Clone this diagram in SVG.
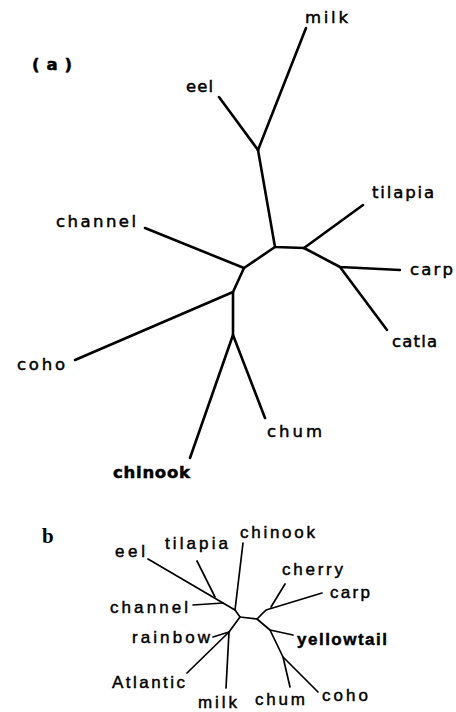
<svg xmlns="http://www.w3.org/2000/svg" width="456" height="712" viewBox="0 0 456 712">
<style>
.ea{stroke:#000;stroke-width:2.6;fill:none;stroke-linecap:round;stroke-linejoin:round}
.eb{stroke:#000;stroke-width:1.7;fill:none;stroke-linecap:round;stroke-linejoin:round}
.ta{font-family:"DejaVu Sans","Liberation Sans",sans-serif;font-size:16.5px;fill:#000;stroke:#000;stroke-width:0.5}
.tb{font-family:"Liberation Sans",Arial,sans-serif;font-size:17px;fill:#000;stroke:#000;stroke-width:0.45}
.bold{font-weight:bold}
</style>
<rect width="456" height="712" fill="#fff"/>
<g id="connectors">
<g id="tree-a">
<path class="ea" d="M258,150 L306,28"/>
<path class="ea" d="M258,150 L219,97"/>
<path class="ea" d="M258,150 L275,247 L304,248"/>
<path class="ea" d="M304,248 L363,205"/>
<path class="ea" d="M304,248 L340,267 L400,270"/>
<path class="ea" d="M340,267 L387,330"/>
<path class="ea" d="M275,247 L244,268 L145,228"/>
<path class="ea" d="M244,268 L233,292 L75,360"/>
<path class="ea" d="M233,292 L233,335 L265,418"/>
<path class="ea" d="M233,335 L190,458"/>
</g>
<g id="tree-b">
<path class="eb" d="M148,559 L235,610"/>
<path class="eb" d="M197,561 L215,597"/>
<path class="eb" d="M193,605 L223,603"/>
<path class="eb" d="M243,543 L235,610 L240,617 L257,619"/>
<path class="eb" d="M257,619 L270,630 L283,657 L318,692"/>
<path class="eb" d="M293,635 L270,630"/>
<path class="eb" d="M283,657 L290,687"/>
<path class="eb" d="M257,619 L266,610 L322,593"/>
<path class="eb" d="M285,584 L271,607"/>
<path class="eb" d="M240,617 L229,632 L187,673"/>
<path class="eb" d="M229,632 L213,637"/>
<path class="eb" d="M229,632 L226,688"/>
</g>
</g>
<g id="panel-a-label"><text class="ta bold" x="32" y="70" font-size="18" textLength="40" lengthAdjust="spacing">(a)</text></g>
<g id="a-milk"><text class="ta" x="305" y="23" textLength="43" lengthAdjust="spacing">milk</text></g>
<g id="a-eel"><text class="ta" x="186" y="92" textLength="27" lengthAdjust="spacing">eel</text></g>
<g id="a-tilapia"><text class="ta" x="372" y="198" textLength="62" lengthAdjust="spacing">tilapia</text></g>
<g id="a-channel"><text class="ta" x="56" y="227" textLength="80" lengthAdjust="spacing">channel</text></g>
<g id="a-carp"><text class="ta" x="410" y="275" textLength="43" lengthAdjust="spacing">carp</text></g>
<g id="a-catla"><text class="ta" x="392" y="347" textLength="45" lengthAdjust="spacing">catla</text></g>
<g id="a-coho"><text class="ta" x="17" y="370" textLength="48" lengthAdjust="spacing">coho</text></g>
<g id="a-chum"><text class="ta" x="267" y="437" textLength="55" lengthAdjust="spacing">chum</text></g>
<g id="a-chinook"><text class="ta bold" x="113" y="478" textLength="77" lengthAdjust="spacing">chinook</text></g>
<g id="panel-b-label"><text x="42" y="543" font-family="Liberation Serif,serif" font-size="21" font-weight="bold">b</text></g>
<g id="b-eel"><text class="tb" x="115" y="557" textLength="30" lengthAdjust="spacing">eel</text></g>
<g id="b-tilapia"><text class="tb" x="165" y="549" textLength="63" lengthAdjust="spacing">tilapia</text></g>
<g id="b-chinook"><text class="tb" x="240" y="538" textLength="75" lengthAdjust="spacing">chinook</text></g>
<g id="b-cherry"><text class="tb" x="282" y="575" textLength="61" lengthAdjust="spacing">cherry</text></g>
<g id="b-carp"><text class="tb" x="330" y="598" textLength="40" lengthAdjust="spacing">carp</text></g>
<g id="b-channel"><text class="tb" x="110" y="613" textLength="78" lengthAdjust="spacing">channel</text></g>
<g id="b-rainbow"><text class="tb" x="132" y="643" textLength="78" lengthAdjust="spacing">rainbow</text></g>
<g id="b-yellowtail"><text class="tb bold" x="297" y="645" textLength="90" lengthAdjust="spacing">yellowtail</text></g>
<g id="b-atlantic"><text class="tb" x="112" y="688" textLength="73" lengthAdjust="spacing">Atlantic</text></g>
<g id="b-milk"><text class="tb" x="198" y="708" textLength="39" lengthAdjust="spacing">milk</text></g>
<g id="b-chum"><text class="tb" x="255" y="705" textLength="50" lengthAdjust="spacing">chum</text></g>
<g id="b-coho"><text class="tb" x="322" y="701" textLength="46" lengthAdjust="spacing">coho</text></g>
</svg>
